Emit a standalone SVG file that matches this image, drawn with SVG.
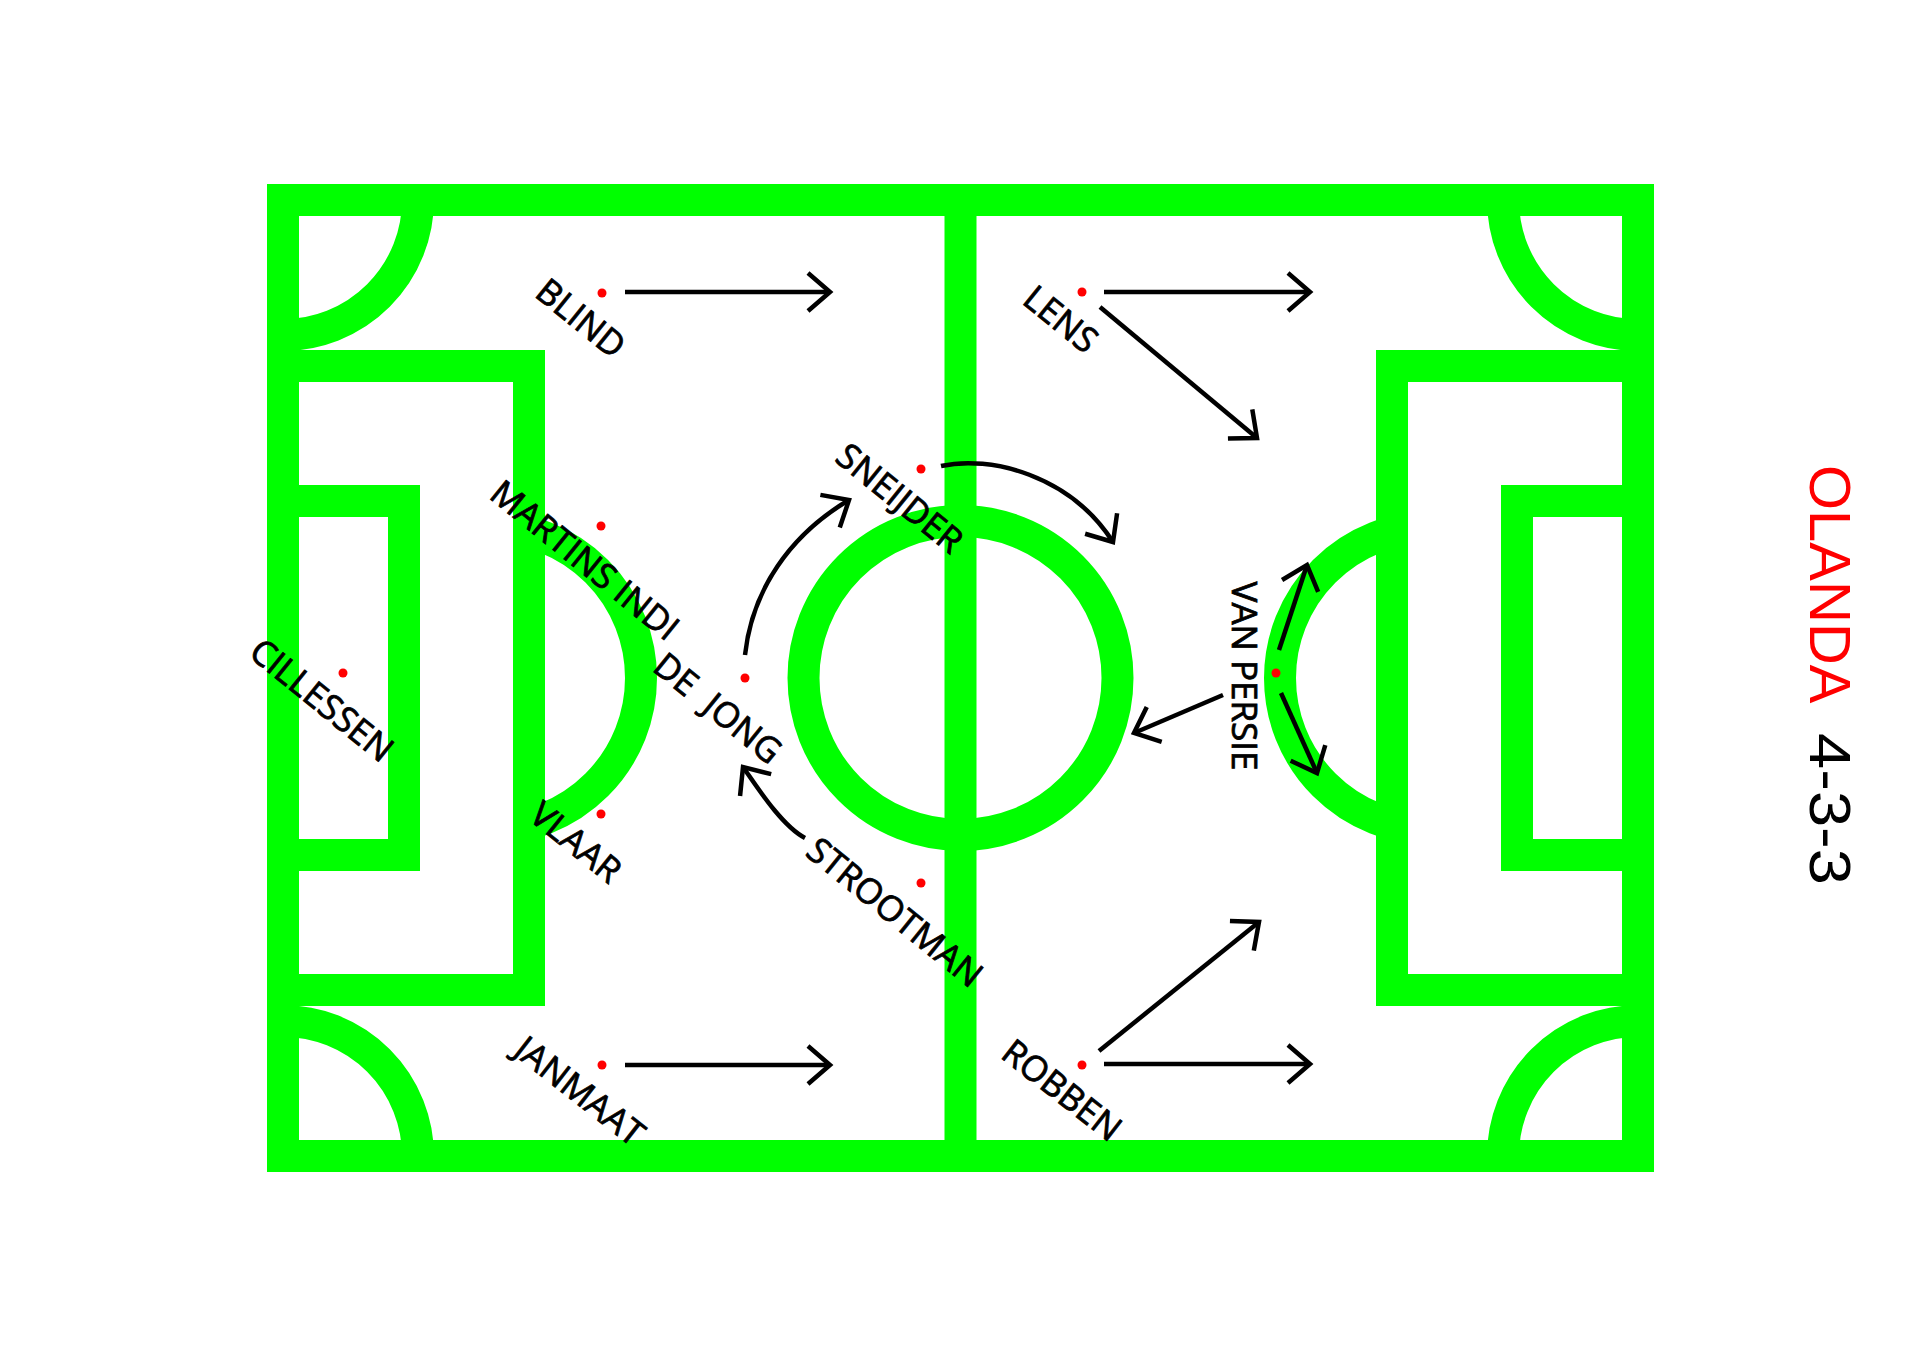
<svg xmlns="http://www.w3.org/2000/svg" width="1920" height="1356" viewBox="0 0 1920 1356">
<style>
.f{fill:none;stroke:#00ff00;stroke-width:32}
.a{fill:none;stroke:#000;stroke-width:4.5}
.dot{fill:#ff0000}
.lb{font-family:"Open Sans","DejaVu Sans",sans-serif;font-size:35px;fill:#000;stroke:#000;stroke-width:0.8;text-anchor:middle}
.ttl{font-family:"Liberation Sans",Arial,sans-serif;font-size:58px}
</style>
<defs>
<marker id="ah" viewBox="-30 -30 60 60" markerWidth="60" markerHeight="60" refX="0" refY="0" orient="auto" markerUnits="userSpaceOnUse">
<path d="M-22,-19 L0,0 L-22,19" fill="none" stroke="#000" stroke-width="4.5"/>
</marker>
<clipPath id="cl"><rect x="529" y="400" width="200" height="560"/></clipPath>
<clipPath id="cr"><rect x="1192" y="400" width="200" height="560"/></clipPath>
</defs>
<rect width="1920" height="1356" fill="#fff"/>
<g id="field">
<rect class="f" x="283" y="200" width="1355" height="956"/>
<path class="f" d="M960.5,200 V1156"/>
<circle class="f" cx="960.5" cy="678" r="157"/>
<path class="f" d="M283,366 H529 V990 H283"/>
<path class="f" d="M1638,366 H1392 V990 H1638"/>
<path class="f" d="M283,501 H404 V855 H283"/>
<path class="f" d="M1638,501 H1517 V855 H1638"/>
<path class="f" d="M418,200 A135,135 0 0 1 283,335"/>
<path class="f" d="M1503,200 A135,135 0 0 0 1638,335"/>
<path class="f" d="M418,1156 A135,135 0 0 0 283,1021"/>
<path class="f" d="M1503,1156 A135,135 0 0 1 1638,1021"/>
<circle class="f" cx="490" cy="678" r="151" clip-path="url(#cl)"/>
<circle class="f" cx="1431" cy="678" r="151" clip-path="url(#cr)"/>
</g>
<g id="connectors">
<path class="a" d="M625,292 H830" marker-end="url(#ah)"/>
<path class="a" d="M625,1065 H830" marker-end="url(#ah)"/>
<path class="a" d="M1104,292 H1310" marker-end="url(#ah)"/>
<path class="a" d="M1100,307 L1257,438" marker-end="url(#ah)"/>
<path class="a" d="M1104,1064 H1310" marker-end="url(#ah)"/>
<path class="a" d="M1099,1051 L1259,922" marker-end="url(#ah)"/>
<path class="a" d="M941,466 C990,455 1070,475 1113,542" marker-end="url(#ah)"/>
<path class="a" d="M745,655 C752,590 790,535 849,500" marker-end="url(#ah)"/>
<path class="a" d="M805,838 C782,826 757,787 743,767" marker-end="url(#ah)"/>
<path class="a" d="M1223,695 L1134,733" marker-end="url(#ah)"/>
<path class="a" d="M1279,650 L1307,565" marker-end="url(#ah)"/>
<path class="a" d="M1281,693 L1317,773" marker-end="url(#ah)"/>
</g>
<g id="cillessen"><circle class="dot" cx="343" cy="673" r="4.5"/><text class="lb" transform="translate(322,700) rotate(39)" y="12.5">CILLESSEN</text></g>
<g id="blind"><circle class="dot" cx="602" cy="293" r="4.5"/><text class="lb" transform="translate(581,318) rotate(39)" y="12.5">BLIND</text></g>
<g id="martins-indi"><circle class="dot" cx="601" cy="526" r="4.5"/><text class="lb" transform="translate(585,560) rotate(39)" y="12.5">MARTINS INDI</text></g>
<g id="vlaar"><circle class="dot" cx="601" cy="814" r="4.5"/><text class="lb" transform="translate(576,842) rotate(39)" y="12.5">VLAAR</text></g>
<g id="janmaat"><circle class="dot" cx="602" cy="1065" r="4.5"/><text class="lb" transform="translate(580,1091) rotate(38)" y="12.5">JANMAAT</text></g>
<g id="de-jong"><circle class="dot" cx="745" cy="678" r="4.5"/><text class="lb" transform="translate(718,708) rotate(39)" y="12.5" word-spacing="10">DE JONG</text></g>
<g id="sneijder"><circle class="dot" cx="921" cy="469" r="4.5"/><text class="lb" transform="translate(900,498) rotate(39)" y="12.5">SNEIJDER</text></g>
<g id="strootman"><circle class="dot" cx="921" cy="883" r="4.5"/><text class="lb" transform="translate(895,912) rotate(39)" y="12.5">STROOTMAN</text></g>
<g id="lens"><circle class="dot" cx="1082" cy="292" r="4.5"/><text class="lb" transform="translate(1061,319) rotate(39)" y="12.5">LENS</text></g>
<g id="robben"><circle class="dot" cx="1082" cy="1065" r="4.5"/><text class="lb" transform="translate(1062,1090) rotate(38)" y="12.5">ROBBEN</text></g>
<g id="van-persie"><circle class="dot" cx="1276" cy="673" r="4.5"/><text class="lb" transform="translate(1232,676) rotate(90)">VAN PERSIE</text></g>
<g id="title">
<text class="ttl" fill="#ff0000" transform="translate(1810,465) rotate(90)">OLANDA</text>
<text class="ttl" fill="#000" transform="translate(1810,733) rotate(90)" textLength="152" lengthAdjust="spacingAndGlyphs">4-3-3</text>
</g>
</svg>
